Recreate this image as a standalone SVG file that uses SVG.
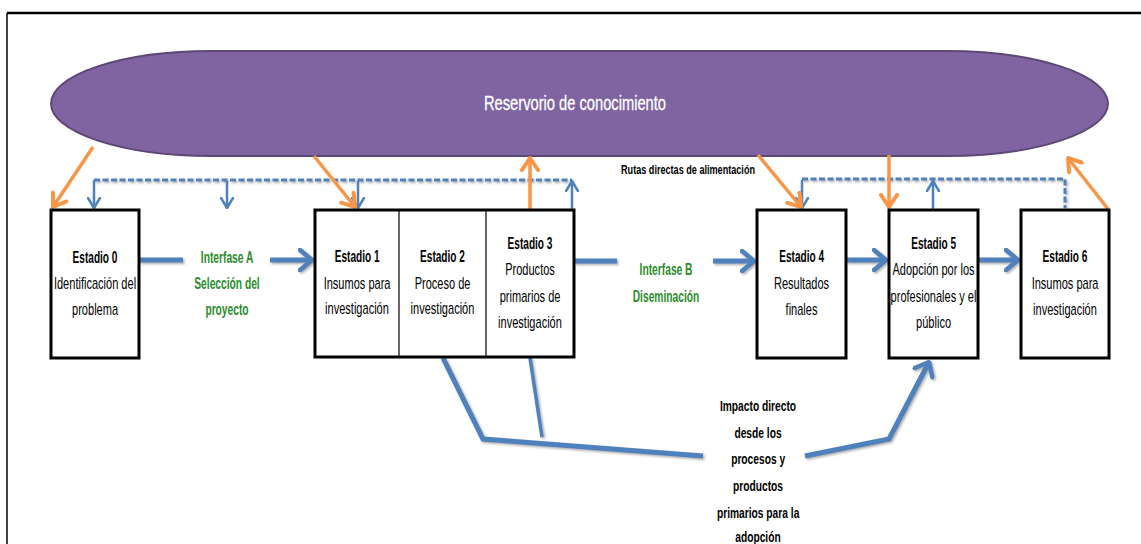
<svg xmlns="http://www.w3.org/2000/svg" width="1141" height="544" viewBox="0 0 1141 544">
<style>
.t{font-family:"Liberation Sans",Arial,sans-serif;font-size:16px;fill:#000;text-anchor:middle;transform-box:fill-box;transform-origin:center;transform:scaleX(0.69)}
.t.b{font-weight:bold;transform:scaleX(0.63)}
.t.g{fill:#2A8C2A;font-weight:bold;transform:scaleX(0.64)}
.t.imp{font-size:15.5px;font-weight:bold;transform:scaleX(0.66)}
.t.res{font-size:21px;fill:#fff;stroke:#fff;stroke-width:0.3;transform:scaleX(0.70)}
.t.rut{font-size:13px;font-weight:bold;transform:scaleX(0.70)}
.box{fill:#fff;stroke:#000;stroke-width:3}
.blue{stroke:#4F81BD;fill:none;stroke-width:5}
.blueT{stroke:#4F81BD;fill:none;stroke-width:2.5}
.dash{stroke:#4F81BD;fill:none;stroke-width:3;stroke-dasharray:6 2.5}
.or{stroke:#F79646;fill:none;stroke-width:3.5}
</style>
<defs>
<filter id="sh" x="-10%" y="-10%" width="130%" height="130%">
<feDropShadow dx="1.5" dy="1.5" stdDeviation="0.8" flood-color="#888" flood-opacity="0.7"/>
</filter>
<marker id="mBig" markerUnits="userSpaceOnUse" viewBox="0 0 16 24" refX="14" refY="12" markerWidth="16" markerHeight="24" orient="auto">
<path d="M2,2 L14,12 L2,22" fill="none" stroke="#4F81BD" stroke-width="4.5" stroke-linecap="round" stroke-linejoin="round"/>
</marker>
<marker id="mSm" markerUnits="userSpaceOnUse" viewBox="0 0 12 14" refX="11" refY="7" markerWidth="12" markerHeight="14" orient="auto">
<path d="M1,1 L11,7 L1,13" fill="none" stroke="#4F81BD" stroke-width="2.5" stroke-linecap="round" stroke-linejoin="round"/>
</marker>
<marker id="mOr" markerUnits="userSpaceOnUse" viewBox="0 0 16 20" refX="14" refY="10" markerWidth="16" markerHeight="20" orient="auto">
<path d="M2,2 L14,10 L2,18" fill="none" stroke="#F79646" stroke-width="4" stroke-linecap="round" stroke-linejoin="round"/>
</marker>
</defs>

<g id="frame">
<line x1="7" y1="13" x2="1141" y2="13" stroke="#000" stroke-width="2.5"/>
<line x1="7" y1="13" x2="7" y2="544" stroke="#000" stroke-width="1.5"/>
</g>

<g id="reservorio">
<path d="M211,51 L946,51 A162,52.5 0 0 1 946,156 L211,156 A160,52.5 0 0 1 211,51 Z" fill="#8064A2" stroke="#5C4776" stroke-width="2"/>
<text class="t res" x="575" y="110">Reservorio de conocimiento</text>
</g>

<g id="connectors">
<g filter="url(#sh)">
<line class="blue" x1="139" y1="260" x2="183" y2="260"/>
<line class="blue" x1="270" y1="260" x2="312" y2="260" marker-end="url(#mBig)"/>
<line class="blue" x1="574" y1="261" x2="617" y2="261" />
<line class="blue" x1="713" y1="261" x2="754" y2="261" marker-end="url(#mBig)"/>
<line class="blue" x1="846" y1="260" x2="886" y2="260" marker-end="url(#mBig)"/>
<line class="blue" x1="978" y1="260" x2="1018" y2="260" marker-end="url(#mBig)"/>
<polyline class="blue" points="443,358 483,439 703,456"/>
<line class="blue" style="stroke-width:3.5" x1="530" y1="358" x2="542" y2="437"/>
<polyline class="blue" points="805,456 889,439 929,362" marker-end="url(#mBig)"/>
<path class="dash" d="M94,180 L572,180"/>
<path class="dash" d="M802,179 L1065,179 L1065,208"/>
</g>
<line class="blueT" x1="94" y1="180" x2="94" y2="208" marker-end="url(#mSm)"/>
<line class="blueT" x1="227" y1="181" x2="227" y2="208" marker-end="url(#mSm)"/>
<line class="blueT" x1="358" y1="181" x2="358" y2="208" marker-end="url(#mSm)"/>
<line class="blueT" x1="572" y1="209" x2="572" y2="181" marker-end="url(#mSm)"/>
<line class="blueT" x1="802" y1="180" x2="802" y2="208" marker-end="url(#mSm)"/>
<line class="blueT" x1="933" y1="209" x2="933" y2="181" marker-end="url(#mSm)"/>
<line class="or" x1="93" y1="147" x2="53" y2="207" marker-end="url(#mOr)"/>
<line class="or" x1="314" y1="156" x2="355" y2="207" marker-end="url(#mOr)"/>
<line class="or" x1="530" y1="209" x2="530" y2="158" marker-end="url(#mOr)"/>
<line class="or" x1="758" y1="155" x2="801" y2="207" marker-end="url(#mOr)"/>
<line class="or" x1="889" y1="155" x2="889" y2="207" marker-end="url(#mOr)"/>
<line class="or" x1="1108" y1="209" x2="1068" y2="158" marker-end="url(#mOr)"/>
</g>

<g id="estadio0">
<rect class="box" x="51" y="210" width="88" height="148"/>
<text class="t b" x="95" y="263">Estadio 0</text>
<text class="t" x="95" y="289">Identificación del</text>
<text class="t" x="95" y="315">problema</text>
</g>

<g id="interfaseA">
<text class="t g" x="227" y="263">Interfase A</text>
<text class="t g" x="227" y="289">Selección del</text>
<text class="t g" x="227" y="315">proyecto</text>
</g>

<g id="estadios123">
<rect class="box" x="315" y="210" width="259" height="147"/>
<line x1="399" y1="210" x2="399" y2="357" stroke="#000" stroke-width="1.2"/>
<line x1="486" y1="210" x2="486" y2="357" stroke="#000" stroke-width="1.2"/>
</g>
<g id="estadio1">
<text class="t b" x="357" y="262">Estadio 1</text>
<text class="t" x="357" y="289">Insumos para</text>
<text class="t" x="357" y="314">investigación</text>
</g>
<g id="estadio2">
<text class="t b" x="442.5" y="262">Estadio 2</text>
<text class="t" x="442.5" y="289">Proceso de</text>
<text class="t" x="442.5" y="314">investigación</text>
</g>
<g id="estadio3">
<text class="t b" x="530" y="249">Estadio 3</text>
<text class="t" x="530" y="275">Productos</text>
<text class="t" x="530" y="302">primarios de</text>
<text class="t" x="530" y="328">investigación</text>
</g>

<g id="interfaseB">
<text class="t g" x="666" y="275">Interfase B</text>
<text class="t g" x="666" y="302">Diseminación</text>
</g>

<g id="rutas">
<text class="t rut" x="688" y="174">Rutas directas de alimentación</text>
</g>

<g id="estadio4">
<rect class="box" x="757" y="210" width="89" height="148"/>
<text class="t b" x="801.5" y="262">Estadio 4</text>
<text class="t" x="801.5" y="289">Resultados</text>
<text class="t" x="801.5" y="315">finales</text>
</g>

<g id="estadio5">
<rect class="box" x="889" y="210" width="89" height="148"/>
<text class="t b" x="933.5" y="249">Estadio 5</text>
<text class="t" x="933.5" y="275">Adopción por los</text>
<text class="t" x="933.5" y="302">profesionales y el</text>
<text class="t" x="933.5" y="328">público</text>
</g>

<g id="estadio6">
<rect class="box" x="1021" y="210" width="88" height="148"/>
<text class="t b" x="1065" y="262">Estadio 6</text>
<text class="t" x="1065" y="289">Insumos para</text>
<text class="t" x="1065" y="315">investigación</text>
</g>

<g id="impacto">
<text class="t imp" x="758" y="411">Impacto directo</text>
<text class="t imp" x="758" y="438">desde los</text>
<text class="t imp" x="758" y="464">procesos y</text>
<text class="t imp" x="758" y="491">productos</text>
<text class="t imp" x="758" y="518">primarios para la</text>
<text class="t imp" x="758" y="542">adopción</text>
</g>
</svg>
